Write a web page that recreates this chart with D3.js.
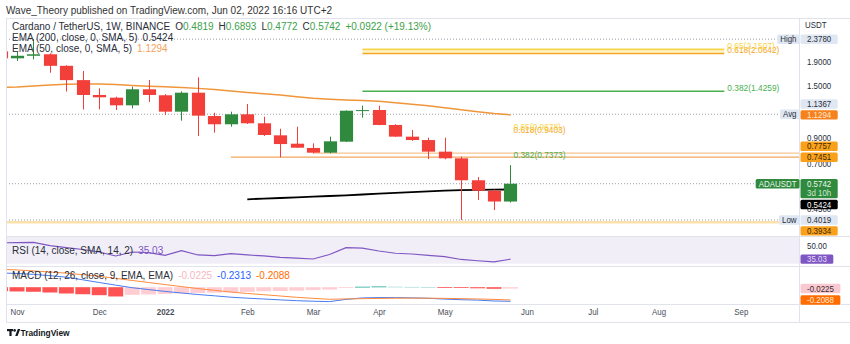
<!DOCTYPE html>
<html>
<head>
<meta charset="utf-8">
<script src="https://cdn.jsdelivr.net/npm/d3@7"></script>
<style>
  html, body { margin: 0; padding: 0; background: #fff; }
  svg { display: block; font-family: "Liberation Sans", Arial, sans-serif; }
</style>
</head>
<body>
<svg id="chart" width="850" height="344"></svg>
<script>
// ---- ADAUSDT weekly bars (Binance), week start dates ----
const weeks = ["2021-10-25","2021-11-01","2021-11-08","2021-11-15","2021-11-22","2021-11-29",
  "2021-12-06","2021-12-13","2021-12-20","2021-12-27","2022-01-03","2022-01-10","2022-01-17",
  "2022-01-24","2022-01-31","2022-02-07","2022-02-14","2022-02-21","2022-02-28","2022-03-07",
  "2022-03-14","2022-03-21","2022-03-28","2022-04-04","2022-04-11","2022-04-18","2022-04-25",
  "2022-05-02","2022-05-09","2022-05-16","2022-05-23","2022-05-30"];
const open  = [2.11,1.97,2.02,2.05,1.83,1.59,1.374,1.338,1.241,1.453,1.370,1.166,1.405,1.117,1.030,
  1.136,1.040,0.924,0.851,0.816,0.779,0.868,1.178,1.185,1.023,0.912,0.882,0.787,0.737,0.594,0.536,0.4819];
const high  = [2.20,2.10,2.378,2.07,1.84,1.74,1.467,1.351,1.490,1.592,1.385,1.424,1.635,1.154,1.166,
  1.257,1.110,0.986,1.006,0.854,0.912,1.180,1.237,1.237,1.030,0.974,0.903,0.903,0.749,0.613,0.542,0.6893];
const low   = [1.88,1.92,1.95,1.71,1.42,1.19,1.193,1.185,1.205,1.282,1.128,1.067,0.918,0.948,1.006,
  1.033,0.918,0.744,0.816,0.774,0.774,0.865,1.099,1.020,0.910,0.875,0.732,0.730,0.4019,0.489,0.443,0.4772];
const close = [1.97,2.02,2.05,1.83,1.59,1.374,1.343,1.241,1.453,1.374,1.166,1.405,1.121,1.030,1.136,
  1.040,0.927,0.848,0.818,0.779,0.871,1.177,1.184,1.023,0.912,0.882,0.787,0.737,0.594,0.536,0.4820,0.5742];

// moving averages
const ema50  = [1.48,1.486,1.502,1.516,1.527,1.530,1.530,1.522,1.508,1.497,1.490,1.478,1.466,1.449,1.427,
  1.409,1.392,1.372,1.351,1.331,1.318,1.309,1.302,1.292,1.273,1.254,1.236,1.212,1.188,1.165,1.145,1.1294];
const ema200 = [null,null,null,null,null,null,null,null,null,null,null,null,null,null,null,
  0.4926,0.4959,0.4989,0.5023,0.5058,0.5088,0.5123,0.5164,0.5204,0.5246,0.5287,0.5329,0.5360,0.5386,0.5408,0.5418,0.5424];

// RSI (14)
const rsi = [53.2,53.4,53.6,50.0,47.8,45.8,43.0,38.6,43.0,42.3,39.3,44.6,39.7,38.9,41.2,39.7,38.6,
  37.0,36.3,35.2,40.2,47.8,47.4,44.1,41.6,40.8,39.3,37.9,34.7,33.3,32.1,35.03];

// MACD (12, 26, 9)
const macdLine = [0.233,0.225,0.211,0.189,0.164,0.121,0.077,0.034,-0.008,-0.039,-0.069,-0.095,-0.120,
  -0.141,-0.164,-0.180,-0.193,-0.208,-0.221,-0.230,-0.236,-0.200,-0.176,-0.170,-0.170,-0.175,-0.182,
  -0.195,-0.205,-0.212,-0.226,-0.2313];
const signalLine = [0.295,0.282,0.267,0.249,0.230,0.205,0.180,0.144,0.111,0.077,0.043,0.010,-0.023,
  -0.051,-0.080,-0.103,-0.123,-0.144,-0.166,-0.182,-0.198,-0.192,-0.188,-0.184,-0.180,-0.179,-0.180,
  -0.183,-0.188,-0.193,-0.200,-0.2088];
const macdHist = [-0.065,-0.070,-0.075,-0.087,-0.103,-0.115,-0.131,-0.152,-0.125,-0.118,-0.110,-0.103,
  -0.095,-0.090,-0.084,-0.076,-0.067,-0.062,-0.056,-0.047,-0.038,-0.010,0.008,0.012,0.009,0.005,0.002,
  -0.008,-0.013,-0.018,-0.026,-0.0225];

// Fibonacci retracements and horizontal levels
const fibLevels    = [0.382, 0.618, 0.65];
const fibUpper     = [1.4259, 2.0642, 2.1507];
const fibLower     = [0.7373, 0.9403, 0.9678];
const fibUpperSpan = ["2022-03-28", "2022-08-29"];
const fibLowerAt   = "2022-05-30";
const rayPrices    = [0.7757, 0.7451];
const rayStarts    = ["2022-03-07", "2022-01-31"];
const supportPrice = 0.3934;
const avgPrice     = 1.1367;

// axis ticks
const monthTicks  = ["2021-11-01","2021-12-06","2022-01-03","2022-02-07","2022-03-07","2022-04-04",
  "2022-05-02","2022-06-06","2022-07-04","2022-08-01","2022-09-05"];
const monthLabels = ["Nov","Dec","2022","Feb","Mar","Apr","May","Jun","Jul","Aug","Sep"];
const priceTicks  = [1.9, 1.5, 0.9, 0.7, 0.45];
const rsiTicks    = [50];

// ---- layout ----
const W = 850;
const paneL = 6, axisX = 799;
const priceTop = 18, priceBot = 236;
const rsiTop = 237, rsiBot = 266;
const macdTop = 267, macdBot = 304;
const timeBot = 322;
const SX = 0.88;      // horizontal squeeze for axis text
const LEG = 10;       // legend font size

const RED = "#f23f3a", GREEN = "#2f8a3e";
const parse = d3.utcParse("%Y-%m-%d");
const dates = weeks.map(parse);

const x = d3.scaleUtc().domain([parse("2021-11-01"), parse("2022-09-05")]).range([17, 740.8]);
const y = d3.scaleLog().domain([1.9, 0.9]).range([62, 138]);
const yR = d3.scaleLinear().domain([50, 30]).range([245.7, 263.7]);
const yM = d3.scaleLinear().domain([0, -0.2]).range([287.2, 299.4]);
const barStep = x(dates[2]) - x(dates[1]);
const bodyW = barStep * 0.8;

const svg = d3.select("#chart");
const defs = svg.append("defs");
function clip(id, x0, y0, x1, y1) {
  defs.append("clipPath").attr("id", id).append("rect")
    .attr("x", x0).attr("y", y0).attr("width", x1 - x0).attr("height", y1 - y0);
  return `url(#${id})`;
}

function squeeze(sel) {
  sel.each(function () {
    const s = d3.select(this);
    const tx = +s.attr("x") || 0, ty = +s.attr("y") || 0;
    s.attr("x", 0).attr("y", 0).attr("transform", `translate(${tx},${ty}) scale(${SX},1)`);
  });
}
function label(g, px, py, str, o = {}) {
  const t = g.append("text")
    .attr("transform", `translate(${px},${py}) scale(${o.sx || SX},1)`)
    .attr("dy", "0.35em")
    .attr("font-size", o.size || 9)
    .attr("fill", o.fill || "#2a2e39")
    .attr("text-anchor", o.anchor || "start")
    .text(str);
  if (o.weight) t.attr("font-weight", o.weight);
  return t;
}
function rich(g, px, py, parts, size) {
  const t = g.append("text")
    .attr("transform", `translate(${px},${py})`)
    .attr("dy", "0.35em").attr("font-size", size || LEG);
  parts.forEach(p => t.append("tspan").attr("fill", p.fill || "#2a2e39")
    .attr("dx", p.dx || 0).text(p.t));
  return t;
}

// ---- frame ----
const frame = svg.append("g").attr("stroke", "#e0e3eb").attr("fill", "none");
frame.append("line").attr("x1", paneL + 0.5).attr("x2", paneL + 0.5).attr("y1", priceTop).attr("y2", timeBot);
frame.append("line").attr("x1", axisX + 0.5).attr("x2", axisX + 0.5).attr("y1", priceTop).attr("y2", timeBot);
[priceTop, priceBot, rsiBot, macdBot, timeBot].forEach(v =>
  frame.append("line").attr("x1", paneL).attr("x2", W).attr("y1", v + 0.5).attr("y2", v + 0.5));

// ---- price pane ----
const pricePane = svg.append("g").attr("clip-path", clip("cp-price", paneL + 1, priceTop + 1, axisX, priceBot));

// support line
pricePane.append("line").attr("x1", paneL).attr("x2", axisX)
  .attr("y1", y(supportPrice)).attr("y2", y(supportPrice))
  .attr("stroke", "#fbe2ad").attr("stroke-width", 2.5);

// dotted reference lines: high, average, low, last price
const dotted = [d3.max(high), avgPrice, d3.min(low), close[close.length - 1]];
pricePane.selectAll("line.dot").data(dotted).join("line").attr("class", "dot")
  .attr("x1", paneL).attr("x2", axisX)
  .attr("y1", d => y(d)).attr("y2", d => y(d))
  .attr("stroke", "#9aa0aa").attr("stroke-width", 1).attr("stroke-dasharray", "1,2");

// horizontal rays
const rayColors = ["#f7c592", "#f2a75c"];
rayPrices.forEach((p, i) => {
  pricePane.append("line").attr("x1", x(parse(rayStarts[i]))).attr("x2", axisX)
    .attr("y1", y(p)).attr("y2", y(p)).attr("stroke", rayColors[i]).attr("stroke-width", 1.2);
});

// upper Fibonacci retracement
const fx0 = x(parse(fibUpperSpan[0])), fx1 = x(parse(fibUpperSpan[1]));
const fibColors = ["#4caf50", "#f5a623", "#f7d44c"];
pricePane.append("rect").attr("x", fx0).attr("width", fx1 - fx0)
  .attr("y", y(fibUpper[2])).attr("height", y(fibUpper[1]) - y(fibUpper[2]))
  .attr("fill", "#fff4cc");
fibUpper.forEach((p, i) => {
  pricePane.append("line").attr("x1", fx0).attr("x2", fx1).attr("y1", y(p)).attr("y2", y(p))
    .attr("stroke", fibColors[i]).attr("stroke-width", 1.6);
});
const fibText = svg.append("g");
fibUpper.forEach((p, i) => label(fibText, fx1 + 3, y(p) - 4, `${fibLevels[i]}(${p.toFixed(4)})`,
  { fill: fibColors[i], size: 9.5 }));
const lx = x(parse(fibLowerAt)) + 3;
fibLower.forEach((p, i) => label(fibText, lx, y(p) - 4, `${fibLevels[i]}(${p.toFixed(4)})`,
  { fill: fibColors[i], size: 9.5 }));

// moving averages
const lineGen = d3.line().defined(d => d.v != null).x(d => x(d.t)).y(d => y(d.v));
pricePane.append("path").datum(dates.map((t, i) => ({ t, v: ema50[i] })))
  .attr("d", lineGen).attr("fill", "none").attr("stroke", "#f0953a").attr("stroke-width", 1.5);
pricePane.append("path").datum(dates.map((t, i) => ({ t, v: ema200[i] })))
  .attr("d", lineGen).attr("fill", "none").attr("stroke", "#000").attr("stroke-width", 1.8);

// candles
const bars = dates.map((t, i) => ({ t, o: open[i], h: high[i], l: low[i], c: close[i] }));
const candle = pricePane.selectAll("g.candle").data(bars).join("g").attr("class", "candle")
  .attr("fill", d => d.c >= d.o ? GREEN : RED).attr("stroke", d => d.c >= d.o ? GREEN : RED);
candle.append("line")
  .attr("x1", d => Math.round(x(d.t)) + 0.5).attr("x2", d => Math.round(x(d.t)) + 0.5)
  .attr("y1", d => y(d.h)).attr("y2", d => y(d.l)).attr("stroke-width", 1);
candle.append("rect")
  .attr("x", d => Math.round(x(d.t)) + 0.5 - bodyW / 2).attr("width", bodyW)
  .attr("y", d => y(Math.max(d.o, d.c)))
  .attr("height", d => Math.max(1, y(Math.min(d.o, d.c)) - y(Math.max(d.o, d.c))))
  .attr("stroke", "none");

// ---- RSI pane ----
const rsiPane = svg.append("g").attr("clip-path", clip("cp-rsi", paneL + 1, rsiTop, axisX, rsiBot));
rsiPane.append("rect").attr("x", paneL).attr("width", axisX - paneL)
  .attr("y", yR(70)).attr("height", yR(30) - yR(70)).attr("fill", "#f1eef8");
rsiPane.append("path").datum(rsi)
  .attr("d", d3.line().x((d, i) => x(dates[i])).y(d => yR(d)))
  .attr("fill", "none").attr("stroke", "#7e57c2").attr("stroke-width", 1.2);

// ---- MACD pane ----
const macdPane = svg.append("g").attr("clip-path", clip("cp-macd", paneL + 1, macdTop, axisX, macdBot));
macdPane.selectAll("rect.hist").data(macdHist).join("rect").attr("class", "hist")
  .attr("x", (d, i) => x(dates[i]) - (barStep - 1.5) / 2).attr("width", barStep - 1.5)
  .attr("y", d => Math.min(yM(0), yM(d))).attr("height", d => Math.max(0.8, Math.abs(yM(d) - yM(0))))
  .attr("fill", (d, i) => {
    const prev = i > 0 ? macdHist[i - 1] : d;
    if (d >= 0) return d >= prev ? "#26a69a" : "#b2dfdb";
    return d <= prev ? "#ff5252" : "#ffcdd2";
  });
const mLine = d3.line().x((d, i) => x(dates[i])).y(d => yM(d));
macdPane.append("path").datum(macdLine).attr("d", mLine)
  .attr("fill", "none").attr("stroke", "#4a7cf0").attr("stroke-width", 1);
macdPane.append("path").datum(signalLine).attr("d", mLine)
  .attr("fill", "none").attr("stroke", "#ff8a3d").attr("stroke-width", 1);

// ---- axes ----
const timeAxis = svg.append("g").attr("transform", `translate(0,${macdBot})`)
  .call(d3.axisBottom(x).tickValues(monthTicks.map(parse)).tickSize(0).tickPadding(5)
    .tickFormat((d, i) => monthLabels[i]));
timeAxis.select(".domain").remove();
timeAxis.selectAll("text").attr("font-size", 9).attr("fill", "#4a4e59")
  .attr("font-family", "Liberation Sans, Arial, sans-serif")
  .attr("font-weight", (d, i) => monthLabels[i] === "2022" ? "bold" : null)
  .call(squeeze);

const priceAxis = svg.append("g").attr("transform", `translate(${axisX + 1},0)`)
  .call(d3.axisRight(y).tickValues(priceTicks).tickSize(0).tickPadding(7).tickFormat(d3.format(".4f")));
priceAxis.select(".domain").remove();
priceAxis.selectAll("text").attr("font-size", 9).attr("fill", "#2a2e39")
  .attr("font-family", "Liberation Sans, Arial, sans-serif").call(squeeze);

const rsiAxis = svg.append("g").attr("transform", `translate(${axisX + 1},0)`)
  .call(d3.axisRight(yR).tickValues(rsiTicks).tickSize(0).tickPadding(7).tickFormat(d3.format(".2f")));
rsiAxis.select(".domain").remove();
rsiAxis.selectAll("text").attr("font-size", 9).attr("fill", "#2a2e39")
  .attr("font-family", "Liberation Sans, Arial, sans-serif").call(squeeze);

label(svg, 805, 25, "USDT", { fill: "#2a2e39" });

// ---- axis value labels ----
const last = a => a[a.length - 1];
const TAG_BG = "#dfe7f3";
const priceLabels = [
  { v: d3.max(high), tag: "High", bg: TAG_BG, fg: "#2a2e39", fixed: true },
  { v: avgPrice, tag: "Avg", bg: TAG_BG, fg: "#2a2e39", fixed: false },
  { v: last(ema50), bg: "#f5821f", fg: "#ffe6cc", fixed: true },
  { v: rayPrices[0], bg: "#f9a11b", fg: "#3d2a05", fixed: false },
  { v: rayPrices[1], bg: "#f9a11b", fg: "#3d2a05", fixed: true },
  { v: last(close), tag: "ADAUSDT", tagBg: GREEN, tagFg: "#e8f5e9", bg: GREEN, fg: "#eef8ee", sub: "3d 10h", fixed: true },
  { v: last(ema200), bg: "#000", fg: "#fff", fixed: false },
  { v: d3.min(low), tag: "Low", bg: TAG_BG, fg: "#2a2e39", fixed: true },
  { v: supportPrice, bg: "#f9a11b", fg: "#3d2a05", fixed: false }
];
const HALF = 4.7, GAP = 1.5;
priceLabels.forEach(d => { d.y = y(d.v); d.top = HALF; d.bot = d.sub ? 14.6 : HALF; });
for (let k = 0; k < 60; k++) {
  priceLabels.sort((a, b) => a.y - b.y);
  for (let i = 0; i < priceLabels.length - 1; i++) {
    const a = priceLabels[i], b = priceLabels[i + 1];
    const ov = (a.y + a.bot + GAP) - (b.y - b.top);
    if (ov <= 0) continue;
    if (a.fixed && !b.fixed) b.y += ov;
    else if (b.fixed && !a.fixed) a.y -= ov;
    else if (!a.fixed && !b.fixed) { a.y -= ov / 2; b.y += ov / 2; }
  }
}

const boxes = svg.append("g");
function valueBox(px, cy, str, bg, fg, opt = {}) {
  const g = boxes.append("g");
  const r = g.append("rect").attr("fill", bg).attr("rx", 1.5);
  const t = label(g, px + 7, cy, str, { fill: fg });
  const w = t.node().getComputedTextLength() * SX + 13;
  r.attr("x", px + 0.5).attr("width", w).attr("y", cy - (opt.top || HALF))
    .attr("height", (opt.top || HALF) + (opt.bot || HALF));
  return g;
}
priceLabels.forEach(d => {
  const g = valueBox(axisX + 1, d.y, d3.format(".4f")(d.v), d.bg, d.fg, { top: d.top, bot: d.bot });
  if (d.sub) label(g, axisX + 8, d.y + 9.6, d.sub, { fill: "#cde8cf" });
  if (d.tag) {
    const tg = boxes.append("g");
    const r = tg.append("rect").attr("fill", d.tagBg || d.bg).attr("rx", 1.5);
    const t = label(tg, axisX - 2.5, y(d.v), d.tag, { fill: d.tagFg || d.fg, anchor: "end" });
    const w = t.node().getComputedTextLength() * SX + 6;
    r.attr("x", axisX - 2.5 - w + 3).attr("width", w).attr("y", y(d.v) - HALF).attr("height", 2 * HALF);
  }
});
valueBox(axisX + 1, yR(last(rsi)), last(rsi).toFixed(2), "#7e57c2", "#e6dcf7");
valueBox(axisX + 1, yM(last(macdHist)), last(macdHist).toFixed(4), "#f9c9d1", "#3a2a2e");
valueBox(axisX + 1, yM(last(signalLine)), last(signalLine).toFixed(4), "#ff6d00", "#ffe9d8");

// ---- legends ----
const leg = svg.append("g");
label(leg, 6, 10, "Wave_Theory published on TradingView.com, Jun 02, 2022 16:16 UTC+2",
  { fill: "#333", size: LEG, sx: 1 });
const c = last(close), o = last(open), prevC = close[close.length - 2], chg = c - prevC;
const G = "#3ca14a";
rich(leg, 12, 26.5, [
  { t: "Cardano / TetherUS, 1W, BINANCE" },
  { t: "O", dx: 5 }, { t: o.toFixed(4), fill: G },
  { t: "H", dx: 5 }, { t: last(high).toFixed(4), fill: G },
  { t: "L", dx: 5 }, { t: last(low).toFixed(4), fill: G },
  { t: "C", dx: 5 }, { t: c.toFixed(4), fill: G },
  { t: `+${chg.toFixed(4)} (+${(chg / prevC * 100).toFixed(2)}%)`, fill: G, dx: 5 }
]);
rich(leg, 12, 37.5, [{ t: "EMA (200, close, 0, SMA, 5)" }, { t: last(ema200).toFixed(4), dx: 5 }]);
rich(leg, 12, 48, [{ t: "EMA (50, close, 0, SMA, 5)" }, { t: last(ema50).toFixed(4), dx: 5, fill: "#f5a25d" }]);
rich(leg, 12, 250, [{ t: "RSI (14, close, SMA, 14, 2)" }, { t: last(rsi).toFixed(2), dx: 5, fill: "#7e57c2" }]);
rich(leg, 12, 275, [
  { t: "MACD (12, 26, close, 9, EMA, EMA)" },
  { t: last(macdHist).toFixed(4), dx: 5, fill: "#f7b8c2" },
  { t: last(macdLine).toFixed(4), dx: 5, fill: "#2962ff" },
  { t: last(signalLine).toFixed(4), dx: 5, fill: "#ff6d00" }
]);

// ---- TradingView mark ----
const logo = svg.append("g").attr("fill", "#131722");
logo.append("rect").attr("x", 7).attr("y", 329).attr("width", 6).attr("height", 2.2);
logo.append("rect").attr("x", 9.4).attr("y", 329).attr("width", 2.2).attr("height", 7);
logo.append("circle").attr("cx", 14.6).attr("cy", 330.4).attr("r", 1.3);
logo.append("path").attr("d", "M15.2,336 L17.8,329 L20.2,329 L17.6,336 Z");
label(svg, 20.5, 333, "TradingView", { fill: "#131722", size: 9.5, weight: "bold" });
</script>
</body>
</html>
